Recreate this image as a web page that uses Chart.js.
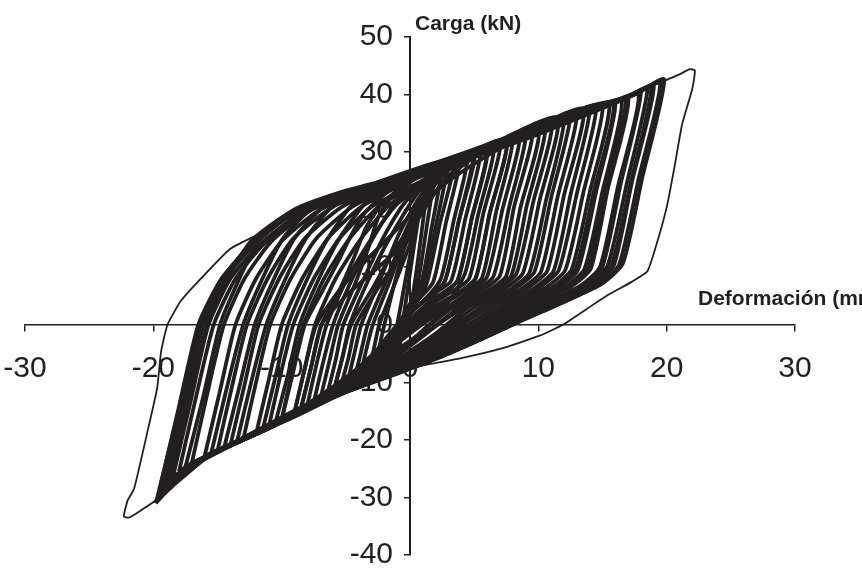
<!DOCTYPE html>
<html>
<head>
<meta charset="utf-8">
<script src="https://cdn.jsdelivr.net/npm/chart.js@4/dist/chart.umd.min.js"></script>
<style>
html,body{margin:0;padding:0;background:#fff;}
canvas{display:block;}
</style>
</head>
<body>
<canvas id="c" width="862" height="572"></canvas>
<script>
// Axis ticks
const xTicks = [-30, -20, -10, 0, 10, 20, 30];
const yTicks = [-40, -30, -20, -10, 0, 10, 20, 30, 40, 50];
const xTitle = 'Deformación (mm)';
const yTitle = 'Carga (kN)';

// Hysteresis cycles: [deformación (mm), carga (kN)]
const cycle01 = [[-2,-9.2],[-1.5,-4.6],[-1,0],[0,12],[1,22],[2,28],[1.3,17],[0.5,6],[-0.5,0],[-1.3,-5],[-2,-9.2]];
const cycle02 = [[-3,-9.8],[-2.5,-4.9],[-2,0],[-1,9],[0.5,20],[2,26.5],[3,28.7],[2,17],[1,7],[-0.5,1.5],[-1.5,-4],[-2.3,-8],[-3,-9.8]];
const cycle03 = [[-4,-10.5],[-3.5,-5.2],[-2.9,0],[-1.5,8],[0,17],[1.5,24],[3,28],[4,29.5],[2.8,17.7],[1.8,7.4],[0.3,3.5],[-1,-1],[-2,-5.5],[-3,-8.5],[-4,-10.5]];
const cycle04 = [[-5,-11.2],[-4.4,-5.6],[-3.8,0],[-2.3,8],[-0.8,16],[1,23],[3.5,28],[5,30],[3.8,18],[2.7,7.5],[1.2,4.5],[-0.5,0.5],[-2,-4.5],[-3.5,-9],[-5,-11.2]];
const cycle05 = [[-6.5,-12.5],[-5.8,-6.2],[-5.2,0],[-3.6,8],[-2,15.5],[-0.3,21.5],[2.5,26.5],[6,30.5],[4.8,18.3],[3.7,7.6],[2.2,5],[0.3,1.5],[-2,-4.5],[-4,-9.5],[-6.5,-12.5]];
const cycle06 = [[-8,-14],[-7.3,-7],[-6.5,0],[-4.9,8],[-3,15],[-1,21],[2.5,26.5],[7,32],[5.7,19.2],[4.6,8],[3,5.4],[1,2.5],[-1.5,-3.5],[-4,-9],[-6,-12],[-8,-14]];
const cycle07 = [[-9,-15.2],[-8.2,-7.6],[-7.4,0],[-5.8,8],[-3.8,15],[-1.5,21],[2,25.8],[5.5,30],[8,32.5],[6.7,19.5],[5.6,8.1],[4,5.5],[1.5,2],[-1.5,-4],[-4.5,-10],[-7,-13.5],[-9,-15.2]];
const cycle08 = [[-10,-16.5],[-9.2,-8.2],[-8.3,0],[-6.7,8],[-4.7,15],[-2.3,20.8],[1.5,25.3],[5.5,30],[9,33.7],[7.7,20.2],[6.5,8.4],[5,5.7],[2.5,2],[-0.5,-4],[-4,-10.5],[-7.5,-14.2],[-10,-16.5]];
const cycle09 = [[-11,-17.7],[-10.1,-8.8],[-9.1,0],[-7.5,8],[-5.5,15],[-3,20.5],[0.5,24.5],[5.5,29.8],[10,33.8],[8.6,20.3],[7.5,8.5],[6,5.8],[3.5,2.5],[1,-2],[-2,-7],[-6,-12],[-9,-15.5],[-11,-17.7]];
const cycle10 = [[-12,-19],[-11,-9.5],[-10,0],[-8.4,8],[-6.4,15],[-3.8,20.5],[0,25],[5.5,30.3],[11,35.5],[9.6,21.3],[8.3,8.9],[6.8,6],[4.5,3],[2,-1.5],[-1,-6],[-5,-11.5],[-9,-16],[-12,-19]];
const cycle11 = [[-13,-20],[-12,-10],[-10.9,0],[-9.3,8],[-7.3,15],[-4.5,20.5],[-0.5,25],[5.5,30.5],[9.5,34],[12,36],[10.6,21.6],[9.3,9],[7.8,6.1],[5.5,3],[3,-1],[0,-5.5],[-4,-10.5],[-8,-14.5],[-11,-17.5],[-13,-20]];
const cycle12 = [[-14,-21],[-12.9,-10.5],[-11.8,0],[-10.2,8],[-8.2,15],[-5.3,20.5],[-1,24.8],[5,30],[10,34.5],[13,37],[11.5,22.2],[10.2,9.2],[8.7,6.3],[6.5,3.5],[4,0],[1,-4.5],[-3,-9.5],[-7.5,-14],[-11,-18],[-14,-21]];
const cycle13 = [[-15,-21.9],[-13.9,-11],[-12.7,0],[-11.1,8],[-9.1,15],[-6,20.5],[-1.5,24.5],[4,29],[9,33.5],[12,36],[14,37.5],[12.5,22.5],[11.2,9.4],[9.7,6.4],[7.5,3.5],[5,0],[2,-4],[-2,-8.5],[-6.5,-12.5],[-11,-18],[-13,-20],[-15,-21.9]];
const cycle14 = [[-16,-22.8],[-14.8,-11.4],[-13.6,0],[-12,8],[-10,14.5],[-7,20],[-2.5,24.3],[3,28.5],[8,32.5],[12,36],[15,38.2],[13.5,22.9],[12.1,9.5],[10.6,6.5],[8.5,3.8],[6,0.5],[3,-3.5],[-1,-8],[-5,-11.5],[-9,-15.5],[-13,-20],[-16,-22.8]];
const cycle15 = [[-17,-24],[-15.8,-12],[-14.5,0],[-12.9,8],[-10.8,14.5],[-7.8,19.8],[-3.5,23.8],[2,28],[7,32],[12,36.3],[15.5,38.3],[14,23],[12.6,9.6],[11.1,6.5],[9,4],[6.5,1],[4,-2.5],[0,-7],[-4,-10.5],[-8,-14],[-12,-18.5],[-15,-22],[-17,-24]];
const cycle16 = [[-18,-25.5],[-16.7,-12.8],[-15.3,0],[-13.6,8],[-11.4,14],[-8.5,19.3],[-4.3,23.3],[1,27.5],[6,31],[11,35.5],[14,38],[16,38.5],[14.5,23.1],[13.1,9.6],[11.6,6.5],[9.5,4],[7,1],[4,-2.8],[0,-7.2],[-4,-10.3],[-8,-13.8],[-12,-18.5],[-15,-22],[-17,-24],[-18,-25.5]];
const cycle17 = [[-18.5,-26.7],[-17.1,-13.4],[-15.7,0],[-14,8],[-11.7,14],[-8.8,19],[-4.8,23],[0,26.5],[5,30.5],[10,34.5],[14,37.8],[16.5,38.7],[15,23.2],[13.6,9.7],[12.1,6.6],[10,4.2],[7.5,1.3],[4.5,-2.5],[1,-6.5],[-3,-9.8],[-7,-13.2],[-11,-17.5],[-14.5,-21.5],[-17,-24.5],[-18.5,-26.7]];
const cycle18 = [[-19,-28],[-17.5,-14],[-16.1,0],[-14.4,8],[-12.1,14],[-9.2,19.5],[-5,23],[0,26.3],[5,30.3],[10,34.3],[14,37.5],[17,39.2],[15.4,23.5],[14.1,9.8],[12.6,6.7],[10.5,4.2],[8,1.5],[5,-2.2],[1.5,-6],[-2.5,-9.3],[-6.5,-12.5],[-10.5,-17],[-14,-21],[-17,-24.3],[-19,-28]];
const cycle19 = [[-19.2,-28.8],[-17.7,-14.4],[-16.2,0],[-14.5,8],[-12.2,14],[-9.2,19.8],[-5,23.3],[0,26.2],[5,30],[10,34],[14,37.5],[16.5,39],[18,40.5],[16.4,24.3],[15,10.1],[13.5,6.9],[11.5,4.5],[9,1.8],[6,-1.8],[2.5,-5.5],[-1.5,-8.8],[-5.5,-12],[-9.5,-16],[-13.5,-20.5],[-17,-24.5],[-18.5,-26.5],[-19.2,-28.8]];
const cycle20 = [[-19.4,-29.6],[-17.9,-14.8],[-16.3,0],[-14.6,8],[-12.2,14],[-9.1,19.5],[-5,23],[0,26],[5,29.8],[10,33.8],[14,37.2],[17,39.5],[18.5,41],[16.9,24.6],[15.4,10.3],[13.9,7],[11.8,4.5],[9.5,2],[6.5,-1.5],[3,-5],[-1,-8.5],[-5,-11.7],[-9,-15.5],[-13,-20],[-16.5,-23.5],[-18.5,-27],[-19.4,-29.6]];
const cycle21 = [[-19.5,-30],[-17.9,-15],[-16.3,0],[-14.6,8],[-12.2,14],[-9.1,19.3],[-5,22.8],[0,25.8],[5,29.5],[10,33.5],[14,37],[17,39.8],[19,41.5],[17.3,24.9],[15.9,10.4],[14.4,7.1],[12.3,4.6],[10,2.2],[7,-1],[3.5,-4.5],[-0.5,-8],[-4.5,-11.2],[-8.5,-15],[-12.5,-19.5],[-16,-23],[-18.5,-27.5],[-19.5,-30]];
const cycle22 = [[-19.7,-30.5],[-18.1,-15.2],[-16.5,0],[-14.7,8],[-12.3,14],[-9.3,19],[-5,22.5],[0,25.5],[5,29.2],[10,33.2],[14,36.8],[17.5,40],[19.5,42],[17.8,25.2],[16.3,10.5],[14.8,7.1],[12.7,4.7],[10.3,2.3],[7.5,-0.5],[4,-4],[0,-7.5],[-4,-10.8],[-8,-14.5],[-12,-19],[-15.5,-22.5],[-18.5,-28],[-19.7,-30.5]];
const cycle23 = [[-4.5,-10.9],[-3.9,-5.5],[-3.3,0],[-1.8,8],[-0.4,16],[1.5,24.5],[3.5,28.8],[2.3,17.3],[1.3,7.2],[0,2],[-1.5,-2.5],[-3,-7],[-4.5,-10.9]];
const cycle24 = [[-6,-12],[-5.3,-6],[-4.7,0],[-3.2,8],[-1.6,15],[0.8,23.5],[3,27.5],[5.5,30.5],[4.3,18.3],[3.2,7.6],[1.7,5.2],[0,2],[-2,-3.5],[-4,-8.5],[-6,-12]];
const cycle25 = [[-7.5,-13.5],[-6.8,-6.8],[-6,0],[-4.5,8],[-2.9,15],[-0.7,22.5],[3,27.5],[7.5,32],[6.2,19.2],[5.1,8],[3.6,5.4],[1.5,2.5],[-1,-2.5],[-3.5,-7.5],[-5.5,-11],[-7.5,-13.5]];
const cycle26 = [[-10.5,-17.1],[-9.5,-8.6],[-8.6,0],[-7.1,8],[-5.5,15],[-3.3,21.5],[0,25],[5,29.8],[9.5,34],[8.1,20.4],[7,8.5],[5.5,5.8],[3,2.5],[0.5,-2],[-2.5,-6.5],[-6,-11.5],[-8.5,-14.8],[-10.5,-17.1]];
const cycle27 = [[-11.5,-18.4],[-10.5,-9.2],[-9.5,0],[-8,8],[-6.4,15],[-4.2,21.5],[0,25.6],[6,31],[11.5,36],[10.1,21.6],[8.8,9],[7.3,6.1],[5,3],[2.5,-1],[-0.5,-5.5],[-4.5,-10.5],[-8.5,-15.3],[-11.5,-18.4]];
const cycle28 = [[-13.5,-20.5],[-12.4,-10.2],[-11.2,0],[-9.7,8],[-8.1,15],[-5.9,20.8],[-1,25],[5,30],[10,34.5],[12.5,36.8],[11,22.1],[9.7,9.2],[8.2,6.3],[6,3.5],[3.5,0],[0.5,-4.5],[-3.5,-9.5],[-8,-14.5],[-11.5,-18.5],[-13.5,-20.5]];
const cycle29 = [[-14.5,-21.5],[-13.3,-10.8],[-12.1,0],[-10.6,8],[-9,15],[-6.8,20.3],[-2,24.5],[4,29],[9,33.3],[13.5,37.5],[12,22.5],[10.7,9.4],[9.2,6.4],[7,3.5],[4.5,0],[1.5,-4],[-2.5,-8.8],[-7,-13],[-11.5,-18.3],[-14.5,-21.5]];
const cycle30 = [[-15.5,-22.4],[-14.3,-11.2],[-13,0],[-11.5,8],[-9.9,15],[-7.7,20],[-3,24],[3,28.5],[8,32.5],[12,36],[14.5,38],[13,22.8],[11.6,9.5],[10.1,6.5],[8,3.7],[5.5,0.3],[2.5,-3.8],[-1.5,-8.3],[-6,-12],[-10.5,-17],[-13.5,-20.5],[-15.5,-22.4]];
const cycle31 = [[-17.5,-24.7],[-16.1,-12.4],[-14.8,0],[-13.3,8],[-11.7,15],[-9.3,19.3],[-5,23],[0,26.3],[6,30.8],[11,35.3],[15.8,38.4],[14.3,23],[12.9,9.6],[11.4,6.5],[9.2,4],[6.7,1],[3.5,-3],[-0.5,-7.3],[-5,-11],[-9.5,-15.5],[-13.5,-20.5],[-16,-23],[-17.5,-24.7]];
const cycle32 = [[-18.8,-27.4],[-17.3,-13.7],[-15.8,0],[-14.2,8],[-12.4,14.5],[-9.5,19.3],[-5,23],[0,26.2],[5,30.2],[10,34.2],[14,37.5],[16.8,39],[15.2,23.4],[13.9,9.8],[12.4,6.6],[10.2,4.2],[7.5,1.3],[4.5,-2.5],[0.5,-6.8],[-3.5,-9.8],[-8,-14],[-12,-18.5],[-15.5,-22.5],[-17.5,-25],[-18.8,-27.4]];
const cycle33 = [[-19.6,-30.2],[-17.9,-15.1],[-16.2,0],[-14.5,8],[-12.4,14],[-9.3,19.2],[-5,22.7],[0,25.7],[5,29.4],[10,33.4],[14,36.9],[17,39.6],[18.8,41.2],[17.2,24.7],[15.7,10.3],[14.2,7],[12,4.6],[9.7,2],[6.8,-1.2],[3.3,-4.7],[-0.7,-8.2],[-4.7,-11.4],[-8.7,-15.2],[-12.7,-19.7],[-16.2,-23.2],[-18.7,-27.8],[-19.6,-30.2]];
const cycle34 = [[-19.3,-29.2],[-17.7,-14.6],[-16.1,0],[-14.4,8],[-12.3,14],[-9.2,19.5],[-5,23],[0,26],[5,29.9],[10,33.9],[14.5,37.4],[17.8,40],[16.2,24],[14.8,10],[13.3,6.8],[11.2,4.4],[8.7,1.7],[5.7,-1.9],[2.2,-5.6],[-1.8,-9],[-5.8,-12.2],[-9.8,-16.2],[-13.8,-20.7],[-17,-24.6],[-19.3,-29.2]];
const cycle35 = [[-19.8,-31],[-18.1,-15.5],[-16.4,0],[-14.6,8],[-12.5,13.8],[-9.4,18.9],[-5,22.4],[0,25.4],[5,29.1],[10,33.1],[14,36.7],[17.5,40],[19.8,42.6],[18.1,25.6],[16.6,10.7],[15,7.2],[13,5],[10.5,2.5],[7.5,-0.3],[4,-3.8],[0,-7.3],[-4,-10.6],[-8,-14.3],[-12,-18.8],[-15.5,-22.3],[-18.5,-27.8],[-19.8,-31]];
const cycle36 = [[-1.5,-8.8],[-1,-4],[-0.6,0],[0.2,12],[0.9,22],[1.5,27.5],[0.9,16],[0.2,5],[-0.5,-1],[-1,-5],[-1.5,-8.8]];
const cycle37 = [[-3.5,-10.1],[-2.9,-5],[-2.4,0],[-1.2,7],[0,14],[1.2,22],[2.5,27.5],[1.7,17],[0.9,7.5],[-0.3,2.5],[-1.5,-2.5],[-2.6,-7],[-3.5,-10.1]];
const cycle38 = [[-5.5,-11.6],[-4.8,-5.8],[-4.2,0],[-2.6,6],[-1,11],[0.5,18],[2,24.5],[4.5,29.5],[3.4,18],[2.4,8],[1,4],[-1,0],[-2.8,-5],[-4.2,-9],[-5.5,-11.6]];
const cycle39 = [[-8.5,-14.6],[-7.7,-7.3],[-6.9,0],[-5,5],[-3,9],[-1,13],[0.8,19],[2.8,25.5],[6.5,31],[5.3,19],[4.3,9],[3,4],[1,0.5],[-1.5,-3.5],[-4,-8.5],[-6.5,-12.5],[-8.5,-14.6]];
const cycle40 = [[-6,-12],[-5.3,-6],[-4.6,0],[-3,6],[-1.5,12],[0,17],[1.5,22],[4,27.5],[8.5,33.2],[7.2,20],[6,8.3],[4.5,5.5],[2.5,2.5],[0,-1.5],[-2.5,-6],[-4.5,-9.5],[-6,-12]];
const cycle41 = [[-9,-15.2],[-8.2,-7.6],[-7.3,0],[-5.5,6],[-3.5,11],[-1.5,15.5],[0.5,20],[3,25],[6.5,30],[10.5,34.5],[9.1,20.7],[7.9,8.6],[6.4,5.9],[4,2.8],[1.5,-1],[-1.5,-5.5],[-5,-10.5],[-7.5,-13.5],[-9,-15.2]];
const cycle42 = [[-7,-13],[-6.3,-6.5],[-5.6,0],[-4.3,7],[-3.3,13],[-2.4,19],[-1,23.5],[1.5,27],[5,30],[3.8,18],[2.7,7.5],[1,3],[-1.5,-2],[-4,-7.5],[-5.8,-11],[-7,-13]];
const cycle43 = [[-8.5,-14.6],[-7.7,-7.3],[-6.9,0],[-5.5,6],[-4.4,11.5],[-3.4,17],[-2,21.5],[0.5,25.5],[3,28.3],[6,30.8],[4.8,18.5],[3.7,7.7],[2,4],[-0.5,-0.5],[-3,-5.5],[-6,-11],[-8.5,-14.6]];
const cycle44 = [[-10,-16.5],[-9.1,-8.2],[-8.2,0],[-6.8,6],[-5.6,11],[-4.6,15.5],[-3.5,19.5],[-1.5,23.5],[2,26.8],[7.5,32.2],[6.2,19.3],[5.1,8],[3.5,5],[1,1.5],[-2,-4],[-5.5,-10],[-8.5,-14.5],[-10,-16.5]];
const outerCycle = [[-9.3,19.7],[-5,22.8],[0,26.3],[5,30.2],[10,34.2],[14,37.6],[17,39.8],[19.4,42],[21,43.5],[21.8,44.4],[22.2,44.2],[22,41],[21.2,34.8],[20.6,27.3],[20,20.4],[19.2,13.9],[18.5,9.3],[17.3,7.5],[15.3,5],[13.8,2.8],[11.9,0],[10.1,-1.9],[7,-4.2],[4,-5.8],[0.5,-7.3],[-4,-10.3],[-8,-13.9],[-12,-18.9],[-16,-22.7],[-18.5,-26.5],[-19.7,-30.3],[-21,-32.3],[-21.9,-33.5],[-22.3,-33.3],[-22,-30.5],[-21.5,-28.5],[-20.4,-18],[-19.7,-11],[-19.4,-4.7],[-18.9,0],[-17.9,4],[-16.3,8],[-14,13.2],[-11.4,16.2],[-9.3,19.7]];

const innerCycles = [cycle01,cycle02,cycle03,cycle04,cycle05,cycle06,cycle07,cycle08,cycle09,cycle10,cycle11,
  cycle12,cycle13,cycle14,cycle15,cycle16,cycle17,cycle18,cycle19,cycle20,cycle21,cycle22,
  cycle23,cycle24,cycle25,cycle26,cycle27,cycle28,cycle29,cycle30,cycle31,cycle32,cycle33,cycle34,cycle35,
  cycle36,cycle37,cycle38,cycle39,cycle40,cycle41,cycle42,cycle43,cycle44];

const INK = '#231f20';
const datasets = innerCycles.map(c => ({
  data: c.map(p => ({x: p[0], y: p[1]})),
  showLine: true, borderColor: INK, borderWidth: 3.8, pointRadius: 0, tension: 0.2, fill: false
}));
datasets.push({
  data: outerCycle.map(p => ({x: p[0], y: p[1]})),
  showLine: true, borderColor: INK, borderWidth: 1.8, pointRadius: 0, tension: 0.15, fill: false
});

const titlePlugin = {
  id: 'axisTitles',
  beforeDraw(chart) {
    // place the y tick labels to the left of the y axis, as in the source figure
    const ys = chart.scales.y;
    const items = ys.getLabelItems(chart.chartArea);
    if (!ys._shifted) {
      items.forEach(it => { it.options.translation[0] -= 17; });
      ys._shifted = true;
    }
  },
  afterDraw(chart) {
    const ctx = chart.ctx;
    ctx.save();
    ctx.fillStyle = INK;
    ctx.font = 'bold 21px "Liberation Sans", Arial, sans-serif';
    ctx.textBaseline = 'alphabetic';
    ctx.textAlign = 'left';
    ctx.fillText(yTitle, 415, 30);
    ctx.fillText(xTitle, 698, 305);
    ctx.restore();
  }
};

new Chart(document.getElementById('c'), {
  type: 'scatter',
  data: { datasets },
  options: {
    responsive: false,
    animation: false,
    devicePixelRatio: 1,
    layout: { padding: { left: 25, right: 67, top: 37, bottom: 17 } },
    plugins: { legend: { display: false }, tooltip: { enabled: false } },
    scales: {
      x: {
        type: 'linear', min: -30, max: 30,
        position: { y: 0 },
        afterBuildTicks: s => { s.ticks = xTicks.map(v => ({ value: v })); },
        afterFit: s => { s.paddingLeft = 0; s.paddingRight = 0; s.paddingTop = 0; s.paddingBottom = 0; },
        grid: { display: true, drawOnChartArea: false, drawTicks: true, tickLength: 6, color: INK, lineWidth: 1.5 },
        border: { display: true, color: INK, width: 1.5 },
        ticks: { color: INK, font: { family: '"Liberation Sans", Arial, sans-serif', size: 30 }, padding: 20, maxRotation: 0 }
      },
      y: {
        type: 'linear', min: -40, max: 50,
        position: { x: 0 },
        afterBuildTicks: s => { s.ticks = yTicks.map(v => ({ value: v })); },
        afterFit: s => { s.paddingLeft = 0; s.paddingRight = 0; s.paddingTop = 0; s.paddingBottom = 0; },
        grid: { display: true, drawOnChartArea: false, drawTicks: true, tickLength: 5, color: INK, lineWidth: 1.5 },
        border: { display: true, color: INK, width: 2 },
        ticks: { color: INK, font: { family: '"Liberation Sans", Arial, sans-serif', size: 30 }, padding: 10 }
      }
    }
  },
  plugins: [titlePlugin]
});
</script>
</body>
</html>
